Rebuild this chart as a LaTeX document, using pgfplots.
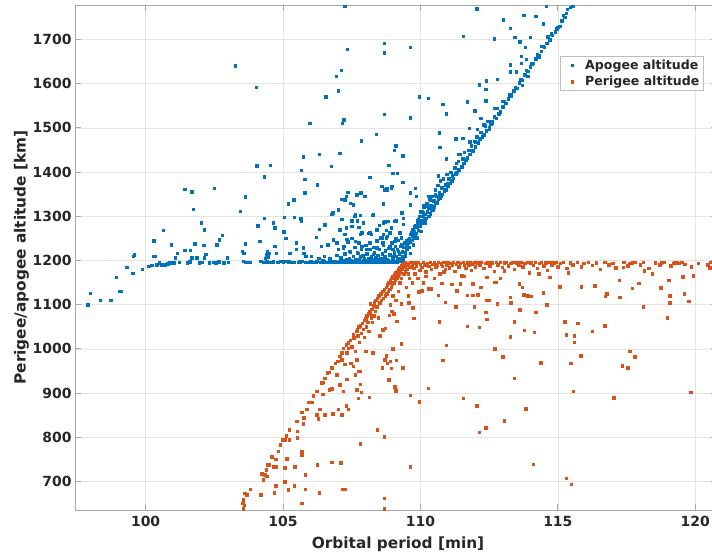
\documentclass[border=0pt]{standalone}
\usepackage{pgfplots}
\pgfplotsset{compat=1.18}
\usepackage{fontspec}
\setmainfont{DejaVu Sans}
\definecolor{mblue}{HTML}{0072BD}
\definecolor{morange}{HTML}{D95319}
\definecolor{txt}{HTML}{262626}
\definecolor{gridc}{HTML}{E4E4E4}
\definecolor{axc}{HTML}{A6A6A6}
\definecolor{legc}{HTML}{BDBDBD}
\begin{document}
\begin{tikzpicture}
\begin{axis}[
  scale only axis, width=642.2bp, height=505bp,
  xmin=97.43, xmax=120.8, ymin=635.5, ymax=1778,
  xtick={100,105,110,115,120}, ytick={700,800,900,1000,1100,1200,1300,1400,1500,1600,1700},
  grid=major, major grid style={gridc, line width=0.6bp},
  axis line style={axc, line width=0.8bp},
  tick style={axc, line width=0.8bp}, tick align=inside, major tick length=6bp,
  /pgf/number format/assume math mode=true,
  /pgf/number format/1000 sep={},
  ticklabel style={font=\bfseries\fontsize{14}{16}\selectfont, text=txt},
  xticklabel style={yshift=-3bp},
  xlabel={Orbital period [min]}, ylabel={Perigee/apogee altitude [km]},
  label style={font=\bfseries\fontsize{15.4}{17}\selectfont, text=txt},
  xlabel style={at={(rel axis cs:0.503,-0.0675)}, anchor=center},
  ylabel style={at={(rel axis cs:-0.0835,0.5)}, anchor=center, rotate=0},
  legend style={at={(rel axis cs:0.9788,0.899)}, anchor=north east, draw=legc, line width=0.6bp,
    font=\bfseries\fontsize{12.6}{14}\selectfont, text=txt, inner xsep=2bp, inner ysep=1bp,
    nodes={inner ysep=2.6bp, inner xsep=2bp}, column sep=0bp},
  legend cell align=left,
  legend image code/.code={\path[draw=none,fill=none] (0bp,0bp) -- (21bp,0bp); \draw[#1, only marks] plot coordinates {(10bp,0bp)};},
]
\addplot[only marks, mark=square*, mark size=1.25bp, mblue, mark options={fill=mblue, draw=none}] coordinates {
(97.89,1100)(97.98,1126)(98.35,1110)(98.73,1110)(98.93,1162)(99.05,1130)(99.11,1130)(99.31,1185)(99.53,1171)(99.55,1210)(99.59,1213)(99.88,1180)
(100.12,1187)(100.22,1189)(100.30,1210)(100.34,1210)(100.30,1245)(100.40,1190)(100.50,1195)(100.58,1191)(100.64,1268)(100.70,1190)(100.80,1193)
(100.88,1195)(100.93,1236)(101.03,1195)(101.07,1206)(101.15,1216)(101.22,1196)(101.43,1361)(101.43,1223)(101.51,1195)(101.60,1197)(101.63,1223)
(101.67,1356)(101.67,1206)(101.73,1316)(101.79,1238)(101.85,1206)(101.95,1195)(102.02,1286)(102.05,1196)(102.12,1235)(102.14,1270)(102.14,1206)
(102.19,1214)(102.31,1195)(102.46,1196)(102.49,1364)(102.55,1195)(102.58,1236)(102.66,1197)(102.68,1247)(102.78,1257)(102.85,1195)(102.97,1206)
(103.00,1196)(103.26,1641)(103.45,1312)(103.52,1221)(103.55,1198)(103.57,1216)(103.62,1344)(103.63,1238)(103.62,1196)(103.70,1196)(103.80,1196)
(104.02,1592)(104.04,1414)(104.07,1279)(104.15,1244)(104.19,1198)(104.30,1196)(104.31,1390)(104.31,1296)(104.35,1205)(104.40,1213)(104.42,1221)
(104.46,1208)(104.40,1197)(104.50,1217)(104.53,1415)(104.64,1285)(104.70,1274)(104.70,1232)(104.76,1217)(104.90,1198)(105.00,1197)(105.02,1265)
(105.04,1298)(105.10,1250)(105.10,1198)(105.18,1329)(105.24,1217)(105.30,1196)(105.39,1338)(105.41,1298)(105.48,1225)(105.48,1240)(105.55,1196)
(105.60,1197)(105.64,1294)(105.67,1290)(105.67,1404)(105.73,1435)(105.73,1229)(105.75,1217)(105.79,1384)(105.79,1353)(105.82,1210)(105.90,1196)
(105.97,1511)(106.03,1210)(106.10,1196)(106.20,1197)(106.21,1253)(106.25,1371)(106.30,1205)(106.31,1441)(106.31,1271)(106.39,1232)(106.40,1196)
(106.50,1197)(106.50,1210)(106.51,1281)(106.55,1571)(106.60,1196)(106.63,1236)(106.70,1196)(106.70,1204)(106.76,1413)(106.78,1305)(106.82,1247)
(106.90,1197)(106.94,1617)(106.95,1212)(107.00,1196)(107.00,1315)(107.00,1225)(107.01,1584)(107.05,1198)(107.06,1443)(107.10,1207)(107.12,1631)
(107.12,1339)(107.15,1511)(107.20,1232)(107.21,1518)(107.24,1775)(107.25,1215)(107.30,1345)(107.30,1274)(107.33,1678)(107.35,1242)(107.36,1354)
(107.40,1205)(107.45,1220)(107.45,1330)(107.50,1250)(107.50,1290)(107.55,1210)(107.55,1325)(107.60,1230)(107.60,1300)(107.65,1203)(107.70,1218)
(107.70,1290)(107.75,1240)(107.75,1275)(107.80,1208)(107.80,1260)(107.80,1302)(107.84,1471)(107.85,1226)(107.85,1354)(107.90,1212)(107.95,1204)
(107.97,1345)(108.00,1235)(108.05,1215)(108.10,1262)(108.10,1205)(108.15,1225)(108.15,1388)(108.20,1259)(108.20,1210)(108.25,1203)(108.27,1302)
(108.30,1230)(108.32,1218)(108.38,1206)(108.39,1486)(108.40,1245)(108.45,1212)(108.50,1225)(108.50,1280)(108.55,1205)(108.60,1252)(108.60,1215)
(108.64,1329)(108.65,1235)(108.68,1692)(108.68,1670)(108.68,1531)(108.68,1360)(108.70,1208)(108.70,1288)(108.72,1222)(108.75,1252)(108.75,1268)
(108.80,1203)(108.80,1360)(108.84,1416)(108.85,1228)(108.88,1213)(108.93,1274)(108.94,1363)(108.95,1240)(109.00,1225)(109.00,1206)(109.00,1398)
(109.05,1218)(109.05,1450)(109.08,1232)(109.10,1250)(109.10,1290)(109.10,1460)(109.12,1210)(109.15,1225)(109.15,1398)(109.20,1246)(109.22,1215)
(109.25,1205)(109.28,1232)(109.30,1252)(109.33,1220)(109.36,1210)(109.36,1377)(109.36,1437)(109.38,1296)(109.40,1230)(109.42,1240)(109.45,1218)
(109.48,1245)(109.50,1226)(109.52,1235)(109.63,1683)(109.63,1523)(109.63,1353)(109.63,1326)(109.81,1364)(109.84,1345)(109.96,1571)(110.29,1567)
(110.69,1489)(110.71,1456)(110.81,1554)(110.93,1532)
(107.10,1197)(107.16,1196)(107.22,1198)(107.28,1197)(107.34,1196)(107.40,1198)(107.46,1197)(107.52,1196)(107.58,1198)(107.64,1197)(107.70,1196)
(107.76,1198)(107.82,1197)(107.88,1196)(107.94,1198)(108.00,1197)(108.06,1196)(108.12,1198)(108.18,1197)(108.24,1196)(108.30,1198)(108.36,1197)
(108.42,1196)(108.48,1198)(108.54,1197)(108.60,1196)(108.66,1198)(108.72,1197)(108.78,1196)(108.84,1198)(108.90,1197)(108.96,1196)(109.02,1198)
(109.08,1197)(109.14,1196)(109.20,1198)(109.26,1199)(109.32,1200)(109.38,1202)
(104.55,1196)(104.65,1197)(104.80,1196)(105.20,1197)(105.40,1196)(105.70,1198)(105.80,1196)(106.00,1197)(106.25,1198)(106.35,1196)(106.45,1199)
(106.80,1198)(106.85,1196)(107.08,1203)(107.18,1200)(107.32,1202)(107.48,1201)(107.62,1200)(107.78,1202)(107.92,1200)(108.08,1201)(108.22,1202)
(108.35,1200)(108.52,1202)(108.68,1201)(108.82,1200)(108.98,1202)(109.18,1204)
(106.95,1240)(107.19,1229)(107.31,1248)(107.43,1221)(107.62,1244)(107.74,1217)(107.86,1232)(107.92,1210)(108.04,1225)(108.16,1240)(108.28,1214)
(108.41,1229)(108.53,1251)(108.62,1240)(108.71,1221)(108.79,1255)(108.89,1232)(109.01,1210)(109.07,1244)(109.19,1221)(109.25,1263)(109.32,1236)
(109.44,1210)(109.50,1229)(109.56,1248)(109.62,1217)(109.68,1263)(109.74,1236)(109.80,1278)(109.86,1251)(109.92,1293)(110.01,1266)(110.10,1308)
(110.16,1285)(110.23,1323)(110.32,1300)(110.35,1338)(110.47,1315)(110.53,1349)(110.59,1330)
(108.59,1368)(108.77,1364)(108.95,1368)(107.37,1355)(107.25,1338)(107.68,1349)(107.82,1353)(108.28,1304)(108.65,1285)(108.83,1289)(109.07,1289)
(109.32,1308)(109.62,1327)(106.80,1308)(107.01,1315)(107.13,1293)(107.55,1327)(107.62,1304)(107.07,1270)(107.25,1259)(107.50,1278)(107.92,1285)
(108.16,1263)(107.86,1263)(108.41,1270)(108.65,1259)(108.89,1263)(109.37,1282)
(109.50,1232)(109.55,1240)(109.58,1230)(109.60,1250)(109.62,1242)(109.65,1260)(109.68,1246)(109.70,1255)(109.72,1270)(109.75,1252)(109.78,1265)
(109.80,1258)(109.82,1280)(109.85,1262)(109.88,1275)(109.90,1290)(109.92,1268)(109.95,1282)(109.98,1300)(110.00,1277)(110.02,1290)(110.05,1310)
(110.08,1285)(110.10,1300)(110.12,1320)(110.15,1292)(110.18,1305)(110.20,1296)(110.22,1330)(110.25,1310)(110.28,1300)(110.30,1318)(110.32,1340)
(110.35,1306)(110.38,1325)(110.40,1314)(110.42,1345)(110.45,1320)(110.48,1335)(110.50,1322)(110.53,1360)(110.55,1330)(110.58,1345)(110.60,1332)
(110.63,1370)(110.65,1340)(110.68,1355)(110.70,1342)(110.72,1380)(110.75,1345)(110.78,1365)(110.80,1350)(110.83,1385)(110.86,1358)(110.90,1372)
(110.92,1360)(110.95,1395)(111.00,1368)(111.03,1385)(111.06,1375)(111.10,1400)(111.13,1380)(111.16,1392)(111.20,1386)(111.24,1410)(111.28,1396)
(111.30,1420)(111.33,1400)(111.37,1425)(111.40,1405)(111.45,1440)(111.50,1412)(111.53,1430)(111.57,1420)(111.60,1445)(111.65,1428)(111.70,1432)
(111.75,1450)(111.80,1440)(111.85,1460)(111.90,1448)(111.95,1470)(112.00,1457)(112.05,1480)(112.10,1466)(112.15,1475)(112.20,1490)(112.25,1480)
(112.30,1485)(112.35,1505)(112.40,1494)(112.45,1515)(112.50,1502)(112.55,1510)(112.60,1512)(112.68,1525)(112.75,1522)(112.80,1545)(112.85,1532)
(112.90,1537)(113.00,1548)(113.05,1560)(113.10,1556)(113.20,1566)(113.25,1575)(113.30,1572)(113.40,1584)(113.45,1592)(113.50,1590)(113.60,1602)
(113.65,1610)(113.70,1608)(113.80,1620)(113.85,1630)(113.90,1628)(114.00,1638)(114.05,1645)(114.10,1646)(114.20,1656)(114.25,1665)(114.30,1664)
(114.40,1674)(114.45,1685)(114.50,1682)(114.60,1692)(114.63,1706)(114.70,1700)(114.76,1713)(114.80,1710)(114.90,1718)(114.95,1724)(115.00,1728)
(115.06,1730)(115.15,1742)(115.20,1755)(115.25,1750)(115.30,1760)(115.35,1768)(115.45,1773)(115.55,1775)
(112.04,1770)(113.01,1745)(113.76,1755)(114.19,1753)(114.58,1775)(114.46,1736)(113.27,1725)(111.56,1707)(112.69,1702)(113.43,1705)(113.61,1695)
(114.00,1705)(113.82,1683)(114.63,1706)(114.40,1685)(114.30,1660)(114.00,1640)(113.85,1655)(113.67,1662)(113.27,1643)(113.27,1627)(113.49,1627)
(113.67,1646)(113.91,1617)(113.71,1597)(112.40,1607)(112.13,1598)(112.37,1587)(112.79,1610)(113.30,1575)(113.00,1560)(111.70,1559)(112.38,1562)
(112.68,1545)(112.90,1535)(111.98,1539)(112.20,1522)(112.30,1507)(112.60,1515)(112.50,1497)(112.07,1497)(111.78,1499)(111.29,1475)(111.53,1477)
(111.80,1469)(112.00,1469)(111.40,1440)(111.60,1420)(110.93,1430)(111.30,1400)(110.65,1392)(111.00,1375)(110.70,1350)(110.30,1345)(110.10,1325)
(110.00,1310)(109.90,1285)(109.80,1275)
};
\addlegendentry{Apogee altitude}
\addplot[only marks, mark=square*, mark size=1.25bp, morange, mark options={fill=morange, draw=none}] coordinates {
(103.55,639)(103.58,646)(103.53,651)(103.55,659)(103.61,674)(103.68,670)(103.80,683)(104.19,670)(104.28,704)(104.22,718)(104.38,727)(104.43,738)
(104.59,756)(104.83,768)(104.89,783)(104.99,795)(105.11,804)(105.23,817)(105.49,836)(105.68,857)(105.86,864)(105.92,879)(106.04,879)(106.10,894)
(106.22,904)(106.40,923)(106.52,934)(106.61,946)(106.77,957)(106.89,968)(107.07,983)(107.13,991)(107.19,1002)(107.29,1010)(107.37,1014)(107.37,1002)
(107.56,1032)(107.68,1040)
(107.13,976)(107.31,991)(107.62,995)(107.68,976)(107.25,965)(107.56,961)(107.46,968)(107.74,949)(107.62,942)(107.31,931)(106.95,942)(107.07,919)
(106.77,910)(106.68,908)(107.19,904)(107.68,908)(107.74,889)(106.44,897)(107.29,872)(107.37,863)(107.01,863)(106.34,864)(106.28,842)(106.22,851)
(106.52,851)(106.80,853)(107.13,851)(105.76,844)(105.74,831)(105.52,814)(105.52,799)(105.23,795)(105.07,795)(105.68,767)(105.68,759)(105.13,752)
(104.74,750)(104.50,738)(104.64,734)(104.74,733)(105.07,731)(105.43,734)(106.25,738)(106.77,744)(107.10,743)(105.80,715)(104.34,715)(104.40,712)
(104.73,691)(105.07,699)(105.40,691)(105.19,681)(104.67,675)(105.80,683)(106.32,675)(107.17,683)(107.25,682)(105.68,651)
(106.45,925)(106.66,947)(106.99,972)(107.44,1020)(107.58,1025)(107.50,1005)
(107.70,1045)(107.72,1030)(107.75,1050)(107.78,1015)(107.80,1052)(107.80,950)(107.80,920)(107.84,902)(107.85,1035)
(107.88,1058)(107.92,1045)(107.95,1027)(107.95,1065)(108.00,995)(108.00,1068)(108.02,1050)(108.05,1075)(108.08,1060)(108.10,1080)(108.12,1040)
(108.14,891)(108.15,1085)(108.17,1080)(108.20,1070)(108.22,1090)(108.25,1060)(108.27,991)(108.28,1098)(108.30,1075)(108.32,1105)(108.35,1085)
(108.38,1110)(108.40,1095)(108.42,817)(108.43,1115)(108.46,1070)(108.48,1120)(108.51,1030)(108.52,1105)(108.55,1125)(108.58,1110)(108.60,957)
(108.62,1130)(108.63,1043)(108.65,1115)(108.68,1135)(108.68,801)(108.68,662)(108.68,639)(108.70,975)(108.72,1047)(108.72,1120)(108.75,1140)
(108.78,1125)(108.80,1145)(108.82,1130)(108.84,930)(108.85,1150)(108.87,1076)(108.88,1135)(108.90,1155)(108.93,956)(108.93,1140)(108.95,1160)
(108.98,1148)(109.00,1000)(109.00,1163)(109.02,1080)(109.03,1150)(109.05,1168)(109.07,915)(109.08,1155)(109.10,1172)(109.12,974)(109.13,1160)
(109.14,1063)(109.15,1176)(109.18,1165)(109.20,1180)(109.22,1170)(109.25,1184)(109.27,1175)(109.30,1102)(109.30,1188)(109.30,1012)(109.33,1180)
(109.35,1192)(109.36,958)(109.38,1185)(109.40,1194)(109.42,1188)
(109.45,1196)(109.50,1190)(109.55,1194)(109.60,1186)(109.65,1196)(109.70,1191)(109.75,1182)(109.80,1195)(109.85,1188)(109.90,1196)(109.95,1178)
(110.00,1192)(110.05,1185)(110.10,1196)(110.15,1190)(110.20,1175)(110.25,1194)(110.30,1187)(110.35,1196)(110.40,1180)(110.45,1192)(110.50,1196)
(110.55,1185)(110.60,1190)(110.65,1196)(110.70,1170)(110.75,1193)(110.80,1187)(110.85,1196)(110.90,1180)(110.95,1191)(111.00,1196)(111.05,1184)
(111.10,1194)(111.15,1189)(111.20,1196)(111.25,1176)(111.30,1192)(111.35,1196)(111.40,1186)(111.45,1194)(111.50,1166)(111.55,1196)(111.60,1190)
(111.65,1182)(111.70,1195)(111.75,1189)(111.80,1196)(111.85,1178)(111.90,1193)(111.95,1196)(112.00,1186)(112.08,1195)(112.15,1190)(112.22,1196)
(112.30,1182)(112.38,1194)(112.45,1196)(112.52,1188)(112.60,1195)(112.68,1176)(112.75,1196)(112.82,1190)(112.90,1196)(112.98,1185)(113.05,1195)
(113.12,1196)(113.20,1188)(113.28,1194)(113.35,1196)(113.42,1180)(113.50,1195)(113.58,1190)(113.65,1196)(113.72,1186)(113.80,1194)(113.88,1196)
(113.95,1172)(114.02,1195)(114.10,1189)(114.18,1196)(114.25,1183)(114.33,1194)(114.40,1196)(114.48,1188)(114.55,1195)(114.62,1178)(114.70,1196)
(114.78,1190)(114.85,1195)(114.92,1196)(115.00,1186)(115.08,1194)(115.20,1196)(115.32,1182)(115.45,1195)(115.55,1190)(115.70,1196)(115.85,1186)
(115.95,1194)(116.10,1196)(116.25,1189)(116.40,1195)(116.55,1180)(116.70,1196)(116.85,1190)(117.00,1194)(117.10,1184)(117.40,1196)(117.55,1188)
(117.60,1194)(117.70,1195)(117.80,1196)(118.00,1190)(118.10,1196)(118.30,1182)(118.55,1195)(118.70,1190)(118.76,1195)(118.85,1196)(119.10,1188)
(119.20,1194)(119.25,1195)(119.35,1195)(119.40,1194)(119.50,1196)(119.62,1192)(119.85,1186)(120.10,1194)(120.45,1190)(120.55,1196)
(109.50,1180)(109.55,1170)(109.60,1160)(109.45,1175)(109.65,1185)(109.70,1150)(109.48,1140)(109.20,1130)(109.25,1150)(109.00,1120)(108.90,1100)
(109.10,1110)(109.30,1160)(108.95,1085)(109.40,1170)(109.80,1170)(109.90,1160)(110.00,1178)(110.20,1165)(109.72,1093)(109.75,1069)(109.93,1129)
(110.05,1132)(110.30,1136)(110.40,1136)(110.65,1121)(110.90,1106)(110.69,1061)(111.28,1096)(111.32,1132)(110.77,1149)(111.14,1146)(111.44,1147)
(111.70,1121)(111.90,1121)(111.90,1148)(112.20,1140)(111.71,1051)(111.96,1096)(112.08,1123)(112.13,1049)(112.38,1083)(112.40,1110)(112.50,1110)
(112.41,1067)(112.41,1162)(112.70,1151)(112.75,1151)(112.80,1102)(113.04,1177)(113.26,1117)(113.28,1105)(113.26,1028)(113.41,1062)(113.60,1148)
(113.70,1140)(113.62,1089)(113.75,1123)(113.90,1120)(113.77,1042)(114.02,1119)(114.14,1038)(114.19,1083)(114.47,1127)(114.59,1100)(114.71,1162)
(115.07,1141)(115.25,1062)(115.31,1032)(115.60,1030)(115.60,1015)(115.72,1058)(115.38,1172)(115.85,1141)(116.34,1143)(116.26,1040)(116.73,1119)
(116.78,1125)(116.71,1053)(117.23,1155)(117.25,1117)(117.37,1185)(117.71,1137)(117.95,1149)(118.14,1177)(118.10,1095)(118.44,1170)(118.74,1138)
(119.04,1155)(119.07,1120)(119.07,1105)(118.98,1070)(119.55,1163)(119.59,1125)(119.76,1108)(119.92,1166)(120.52,1184)
(108.17,1102)(108.75,985)(108.80,968)(108.90,972)(109.10,905)(109.63,895)(109.96,880)(110.29,911)(109.63,734)
(110.81,974)(110.93,1008)(111.56,889)(112.05,872)(112.13,812)(112.38,822)(112.70,1000)(113.00,982)(113.05,838)(113.41,934)(113.83,865)(114.10,739)
(114.38,969)(115.47,968)(115.56,904)(115.84,985)(115.31,707)(115.49,694)(117.04,890)(117.35,962)(117.55,958)(117.62,995)(117.80,982)(119.83,902)
(107.80,786)(109.55,1120)(109.58,1105)(110.10,1150)(110.50,1160)(110.85,1175)(111.60,1165)(112.90,1160)(114.30,1170)
};
\addlegendentry{Perigee altitude}
\coordinate (sw) at (rel axis cs:0,0);
\end{axis}
\pgfresetboundingbox
\path (sw) ++(-75bp,-47bp) rectangle ++(712bp,557bp);
\end{tikzpicture}
\end{document}
